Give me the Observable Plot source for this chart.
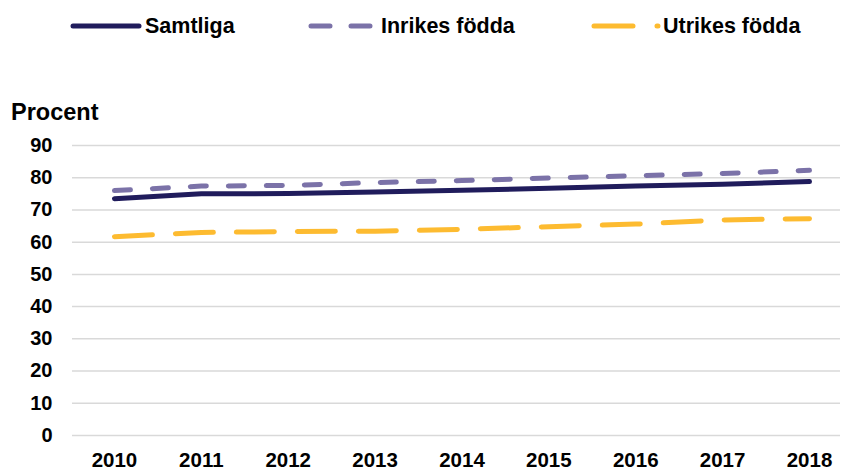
<!DOCTYPE html>
<html>
<head>
<meta charset="utf-8">
<script src="https://cdn.jsdelivr.net/npm/d3@7"></script>
<script src="https://cdn.jsdelivr.net/npm/@observablehq/plot@0.6"></script>
<style>
  html, body { margin: 0; padding: 0; background: #fff; }
  body { width: 841px; height: 470px; overflow: hidden; font-family: "Liberation Sans", Arial, sans-serif; }
  #header { position: relative; height: 95px; }
  .leg { position: absolute; top: 13px; height: 26px; display: flex; align-items: center; font-weight: bold; font-size: 21.5px; color: #000; }
  .leg svg { display: block; margin-right: 1px; }
  #ytitle { position: absolute; left: 11px; top: 99px; font-weight: bold; font-size: 23.5px; color: #000; }
  #chart svg { display: block; }
</style>
</head>
<body>
<div id="header">
  <div class="leg" style="left:70px"><svg width="74" height="10"><line x1="3" y1="5" x2="69" y2="5" stroke="#201c5c" stroke-width="5" stroke-linecap="round"/></svg>Samtliga</div>
  <div class="leg" style="left:306px"><svg width="74" height="10"><line x1="5" y1="5" x2="68" y2="5" stroke="#7b72a8" stroke-width="5" stroke-linecap="round" stroke-dasharray="19,21"/></svg>Inrikes födda</div>
  <div class="leg" style="left:590px"><svg width="72" height="10"><line x1="4" y1="5" x2="68" y2="5" stroke="#fdbb30" stroke-width="5" stroke-linecap="round" stroke-dasharray="39,24"/></svg>Utrikes födda</div>
</div>
<div id="ytitle">Procent</div>
<div id="chart"></div>
<script>
const years = [2010, 2011, 2012, 2013, 2014, 2015, 2016, 2017, 2018];
const seriesNames = ["Samtliga", "Inrikes födda", "Utrikes födda"];
const samtliga = [73.5, 75.0, 75.1, 75.6, 76.1, 76.7, 77.4, 78.0, 78.8];
const inrikes  = [76.0, 77.4, 77.6, 78.5, 79.1, 79.9, 80.6, 81.3, 82.3];
const utrikes  = [61.7, 63.0, 63.3, 63.4, 64.0, 64.8, 65.6, 66.9, 67.3];
const yTicks = [0, 10, 20, 30, 40, 50, 60, 70, 80, 90];
const colors = ["#201c5c", "#7b72a8", "#fdbb30"];
const dashes = [null, "16,22", "38,23"];

const valuesBySeries = [samtliga, inrikes, utrikes];
const data = seriesNames.flatMap((s, i) => years.map((yr, j) => ({series: s, year: yr, value: valuesBySeries[i][j]})));

const plot = Plot.plot({
  width: 841,
  height: 375,
  marginLeft: 72,
  marginRight: 1,
  marginTop: 50,
  marginBottom: 35,
  style: {fontFamily: "'Liberation Sans', Arial, sans-serif", fontWeight: "bold", fontSize: "20px", color: "#000", background: "#fff", overflow: "visible"},
  x: {domain: [2009.517, 2018.357], axis: null},
  y: {domain: [0, 90], axis: null},
  marks: [
    Plot.gridY(yTicks, {stroke: "#d9d9d9", strokeOpacity: 1, strokeWidth: 1.5}),
    Plot.axisY(yTicks, {tickSize: 0, tickPadding: 20, fontSize: 20, fontWeight: "bold", label: null, fill: "#000"}),
    Plot.axisX(years, {tickSize: 0, tickPadding: 17, tickFormat: d => String(d), fontSize: 20.5, fontWeight: "bold", label: null, fill: "#000"}),
    ...seriesNames.map((s, i) => Plot.line(data.filter(d => d.series === s), {
      x: "year", y: "value", stroke: colors[i], strokeWidth: 5,
      strokeLinecap: "round", strokeLinejoin: "round",
      strokeDasharray: dashes[i] ?? undefined
    }))
  ]
});
document.getElementById("chart").appendChild(plot);
</script>
</body>
</html>
